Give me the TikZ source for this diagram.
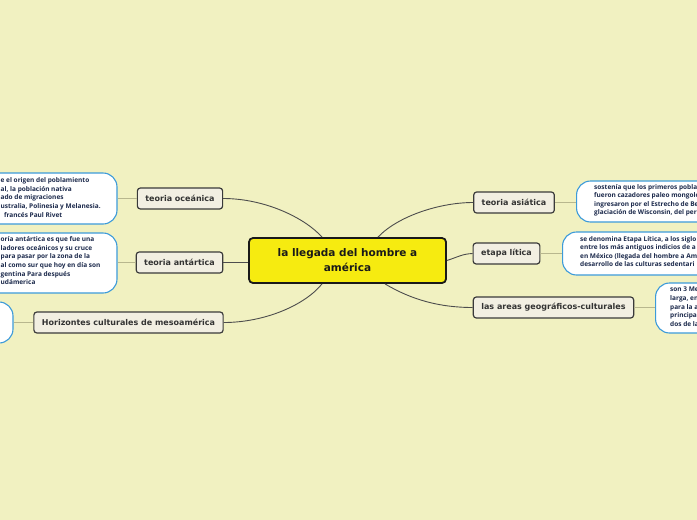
\documentclass[tikz,border=0pt]{standalone}
\usepackage{fontspec}
\setmainfont{Open Sans}
\newfontfamily\topicfont{DejaVu Sans}
\definecolor{bg}{HTML}{F1F1C1}
\definecolor{centerfill}{HTML}{F6EB10}
\definecolor{topicfill}{HTML}{F2EFE2}
\definecolor{topicdraw}{HTML}{3A3A3A}
\definecolor{topictext}{HTML}{333333}
\definecolor{detailblue}{HTML}{3D9BD9}
\definecolor{detailtext}{HTML}{1C2A4C}
\definecolor{mainline}{HTML}{4D4D4D}
\definecolor{subline}{HTML}{B8B78E}
\tikzset{
  centernode/.style={draw=black!90, line width=1.8pt, fill=centerfill, rounded corners=4pt,
    minimum width=197pt, minimum height=45pt, align=center, inner sep=2pt,
    font=\topicfont\fontsize{10.5}{15}\selectfont\bfseries, text=black!90},
  topicnode/.style={draw=topicdraw, line width=1.2pt, fill=topicfill, rounded corners=3pt,
    minimum height=21pt, inner xsep=8pt, inner ysep=2pt,
    font=\topicfont\fontsize{8}{10}\selectfont\bfseries, text=topictext},
  detailbox/.style={draw=detailblue, line width=1.1pt, fill=white, rounded corners=14pt, inner sep=0pt},
  detailtxt/.style={align=left, inner sep=0pt, text=detailtext,
    font=\fontsize{6.5}{8.6}\selectfont\bfseries},
  mainconn/.style={draw=mainline, line width=0.9pt},
  subconn/.style={draw=subline, line width=1pt}
}
\begin{document}
\begin{tikzpicture}[x=1pt,y=-1pt]
\useasboundingbox (0,0) rectangle (697,520);
\clip (0,0) rectangle (697,520);
\fill[bg] (0,0) rectangle (697,520);

% central node
\node[centernode] (c) at (347.5,260.5) {la llegada del hombre a\\am\'erica};

% topic nodes
\node[topicnode] (oc) at (180,198.5) {teoria oce\'anica};
\node[topicnode] (an) at (179.5,262.5) {teoria ant\'artica};
\node[topicnode] (ho) at (128.5,322.5) {Horizontes culturales de mesoam\'erica};
\node[topicnode] (as) at (514,202.5) {teoria asi\'atica};
\node[topicnode] (li) at (506.5,253.5) {etapa l\'itica};
\node[topicnode] (ar) at (553.5,307.5) {las areas geogr\'aficos-culturales};

% detail boxes (left side)
\node[detailbox, minimum width=177pt, minimum height=51pt] (ocd) at (28.5,198.5) {};
\node[detailtxt, anchor=north west] (ocdt) at (0.5,177.5) {e el origen del poblamiento\\al, la poblaci\'on nativa\\ado de migraciones\\ustralia, Polinesia y Melanesia.\\\ \ franc\'es Paul Rivet};

\node[detailbox, minimum width=177pt, minimum height=60pt] (and) at (28.5,263) {};
\node[detailtxt, anchor=north west] (andt) at (0.5,236.5) {or\'ia ant\'artica es que fue una\\ladores oce\'anicos y su cruce\\para pasar por la zona de la\\al como sur que hoy en d\'ia son\\gentina Para despu\'es\\ud\'america};

\node[detailbox, minimum width=113pt, minimum height=41pt] (hod) at (-43.5,322.5) {};

% detail boxes (right side)
\node[detailbox, minimum width=184pt, minimum height=41pt, anchor=west] (asd) at (576,201.5) {};
\node[detailtxt, anchor=north west] (asdt) at (594,184) {sosten\'ia que los primeros pobla\\fueron cazadores paleo mongolo\\ingresaron por el Estrecho de Be\\glaciaci\'on de Wisconsin, del per};

\node[detailbox, minimum width=198pt, minimum height=43pt, anchor=west] (lid) at (562,253.5) {};
\node[detailtxt, anchor=north west] (lidt) at (580,236) {se denomina Etapa L\'itica, a los siglo\\entre los m\'as antiguos indicios de a\\en M\'exico (llegada del hombre a Am\\desarrollo de las culturas sedentari};

\node[detailbox, minimum width=105pt, minimum height=50pt, anchor=west] (ard) at (655,308) {};
\node[detailtxt, anchor=north west] (ardt) at (670,287) {son 3 Me\\larga, en\\para la a\\principa\\dos de la};

% main connectors
\draw[mainconn] ([xshift=-25.5pt]c.north) .. controls (305,218) and (265,198.5) .. (oc.east);
\draw[mainconn] (an.east) -- (an.east -| c.west);
\draw[mainconn] ([xshift=-25.5pt]c.south) .. controls (305,305) and (265,322.5) .. (ho.east);
\draw[mainconn] ([xshift=30.5pt]c.north) .. controls (398,216) and (440,202.5) .. (as.west);
\draw[mainconn] (c.east) .. controls (458,257) and (462,254) .. (li.west);
\draw[mainconn] ([xshift=37.5pt]c.south) .. controls (412,300) and (440,307.5) .. (ar.west);

% sub connectors
\draw[subconn] (oc.west) -- (ocd.east);
\draw[subconn] (an.west) -- (an.west -| and.east);
\draw[subconn] (ho.west) -- (hod.east);
\draw[subconn] (as.east) -- (as.east -| asd.west);
\draw[subconn] (li.east) -- (lid.west);
\draw[subconn] (ar.east) -- (ar.east -| ard.west);
\end{tikzpicture}
\end{document}
